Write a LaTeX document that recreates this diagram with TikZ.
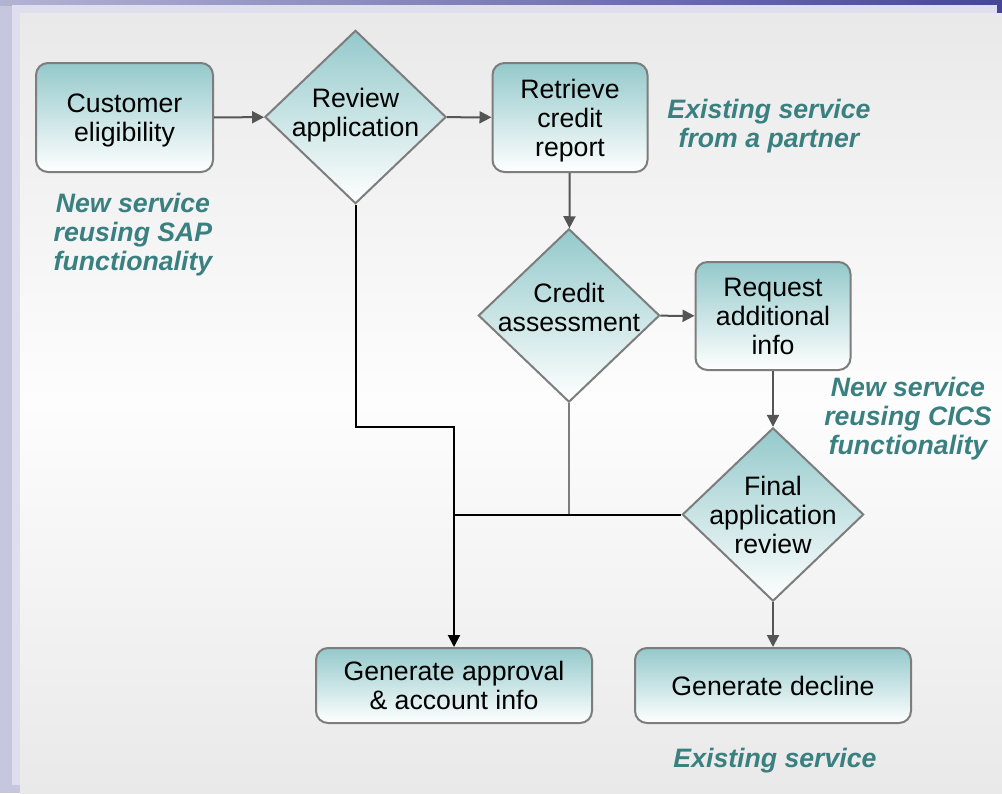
\documentclass[tikz,border=0pt]{standalone}
\usepackage{fontspec}
\setmainfont{Liberation Sans}
\usetikzlibrary{shapes.geometric,arrows.meta}
\definecolor{boxteal}{RGB}{148,201,203}
\definecolor{labteal}{RGB}{58,128,129}
\definecolor{edgegray}{RGB}{125,125,125}
\definecolor{arrgray}{RGB}{85,85,85}
\definecolor{lav}{RGB}{198,198,222}
\definecolor{lavlight}{RGB}{222,222,238}
\definecolor{navy}{RGB}{70,70,152}
\definecolor{panelgray}{RGB}{233,233,233}
\definecolor{panellight}{RGB}{253,253,253}

\begin{document}
\begin{tikzpicture}[x=0.75pt,y=-0.75pt,
  proc/.style={draw=edgegray, line width=1.5pt, rounded corners=9pt, top color=boxteal, bottom color=white, inner sep=0pt},
  dec/.style={diamond, draw=edgegray, line width=1.5pt, top color=boxteal, bottom color=white, inner sep=0pt, minimum width=136pt, minimum height=130pt},
  steptext/.style={align=center, font=\fontsize{20}{21.75}\selectfont},
  note/.style={text=labteal, align=center, font=\fontsize{20}{21.75}\selectfont\bfseries\itshape},
  flow/.style={draw=arrgray, line width=1.5pt, -{Triangle[length=9pt,width=9pt]}},
  merge/.style={draw=black, line width=1.5pt}]
\useasboundingbox (0,0) rectangle (1002,793);
% background
\fill[lav] (0,0) rectangle (1002,793);
\shade[left color=lav!85!navy, right color=navy] (0,0) rectangle (1002,5);
\fill[lavlight] (12,5) rectangle (997,785);
\fill[navy] (997,5) rectangle (1002,13);
\shade[top color=panelgray, bottom color=panellight] (20,13) rectangle (1002,400);
\shade[top color=panellight, bottom color=panelgray] (20,400) rectangle (1002,793);

% steps
\node[proc, minimum width=132.75pt, minimum height=81.75pt, label={[steptext, yshift=-2.25pt]center:Customer\\eligibility}] (elig) at (124.5,117.5) {};
\node[dec, label={[steptext, yshift=1.5pt]center:Review\\application}] (review) at (355.5,117) {};
\node[proc, minimum width=116.25pt, minimum height=81.75pt, label={[steptext, yshift=-2.25pt]center:Retrieve\\credit\\report}] (retrieve) at (570,117.5) {};
\node[dec, label={[steptext, yshift=6pt]center:Credit\\assessment}] (credit) at (569,315.5) {};
\node[proc, minimum width=116.25pt, minimum height=81pt, label={[steptext]center:Request\\additional\\info}] (request) at (773,316) {};
\node[dec, label={[steptext]center:Final\\application\\review}] (final) at (773,514.5) {};
\node[proc, minimum width=207pt, minimum height=56.25pt, label={[steptext]center:Generate approval\\\& account info}] (approve) at (454,685.5) {};
\node[proc, minimum width=207pt, minimum height=56.25pt, label={[steptext]center:Generate decline}] (decline) at (773,685.5) {};

% notes
\node[note] (sapnote) at (133,235) {New service\\reusing SAP\\functionality};
\node[note] (partnernote) at (769,126) {Existing service\\from a partner};
\node[note] (cicsnote) at (908,419) {New service\\reusing CICS\\functionality};
\node[note] (existnote) at (775,761) {Existing service};

% flow
\draw[flow] (elig) -- (review);
\draw[flow] (review) -- (retrieve);
\draw[flow] (retrieve) -- (credit);
\draw[flow] (credit) -- (request);
\draw[flow] (request) -- (final);
\draw[flow] (final) -- (decline);

\coordinate (bend0) at (454,427);
\coordinate (join0) at (454,514.5);
\draw[draw=edgegray, line width=1.5pt] (credit.south) |- (join0);
\draw[merge] (final.west) -- (join0);
\draw[merge, -{Triangle[length=9pt,width=9pt]}] (review.south) |- (bend0) -- (approve.north);

\end{tikzpicture}
\end{document}
